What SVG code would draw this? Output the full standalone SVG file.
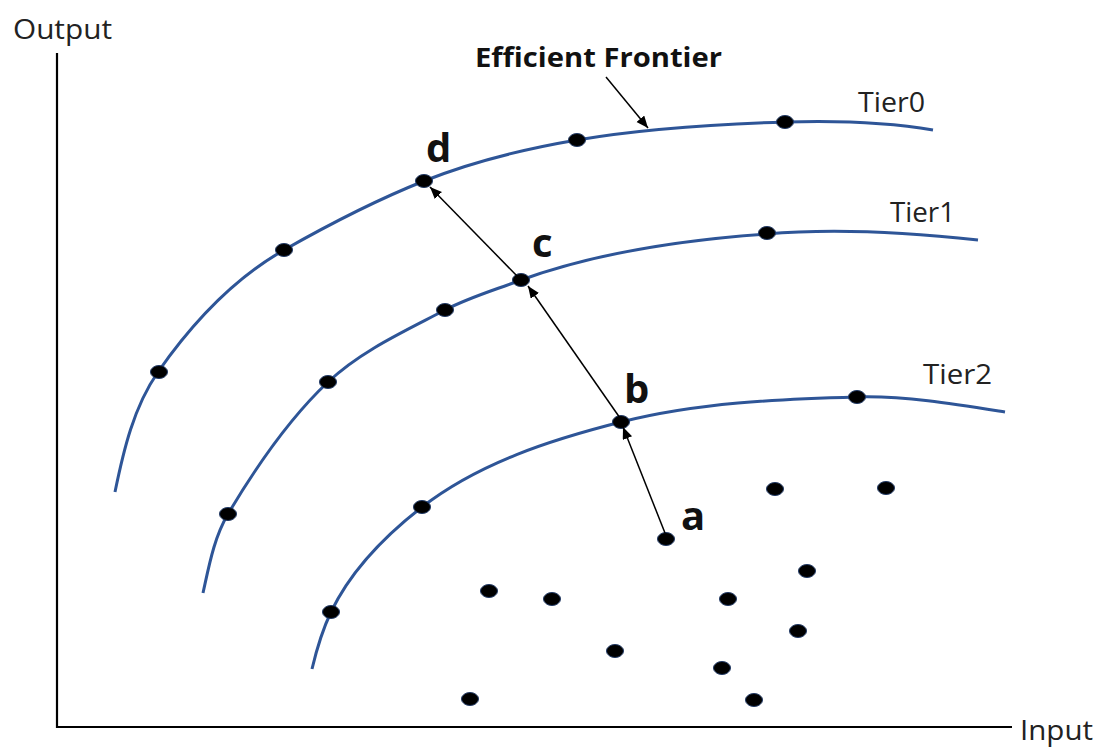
<svg xmlns="http://www.w3.org/2000/svg" width="1099" height="747" viewBox="0 0 1099 747">
<style>
.axis{stroke:#000;stroke-width:2.2;fill:none}
.tier{stroke:#2E5597;stroke-width:3;fill:none;stroke-linecap:butt}
.dot{fill:#000;stroke:#1F3864;stroke-width:1}
.arr{stroke:#000;stroke-width:1.5;fill:none}
.lbl{font-family:"Open Sans","Liberation Sans",sans-serif;font-size:28px;fill:#222}
.pt{font-family:"Open Sans","Liberation Sans",sans-serif;font-size:40px;font-weight:bold;fill:#111}
.ef{font-family:"Open Sans","Liberation Sans",sans-serif;font-size:26px;font-weight:bold;fill:#111}
</style>
<defs>
<marker id="ah" markerUnits="userSpaceOnUse" markerWidth="13" markerHeight="11" refX="12" refY="5" orient="auto">
<path d="M0,0 L12,5 L0,10 z" fill="#000"/>
</marker>
</defs>
<rect width="1099" height="747" fill="#fff"/>
<g id="axes">
<polyline class="axis" points="57,53 57,727 1012,727"/>
<text class="lbl" x="13" y="39" textLength="99" lengthAdjust="spacingAndGlyphs">Output</text>
<text class="lbl" x="1020" y="740" textLength="73" lengthAdjust="spacingAndGlyphs">Input</text>
</g>
<g id="tier0">
<path class="tier" d="M115,492 C123.5,450.4 133.7,406.9 158,372 C191.5,324 233.2,279 284,250 C329.2,224.3 375.7,200.3 424,181 C472.6,161.6 525.3,148.8 577,140 C646,128.3 715,124.2 785,122 C834.4,120.5 884.3,121.6 933,130"/>
<ellipse class="dot" cx="159" cy="372" rx="8.5" ry="6.5"/>
<ellipse class="dot" cx="284" cy="250" rx="8.5" ry="6.5"/>
<ellipse class="dot" cx="424" cy="181" rx="8.5" ry="6.5"/>
<ellipse class="dot" cx="577" cy="140" rx="8.5" ry="6.5"/>
<ellipse class="dot" cx="785" cy="122" rx="8.5" ry="6.5"/>
<text class="lbl" x="858" y="112" textLength="67" lengthAdjust="spacingAndGlyphs">Tier0</text>
</g>
<g id="tier1">
<path class="tier" d="M203,593 C209,566.1 213.9,537.8 228,514 C256.2,466.5 287.8,419.8 328,382 C361.4,350.6 404.5,331.3 445,310 C468.7,297.5 496.9,289.3 521,280 C598.3,251.9 682.7,239.8 766,234 C836.4,227.7 907.7,232.2 978,240"/>
<ellipse class="dot" cx="228" cy="514" rx="8.5" ry="6.5"/>
<ellipse class="dot" cx="328" cy="382" rx="8.5" ry="6.5"/>
<ellipse class="dot" cx="445" cy="310" rx="8.5" ry="6.5"/>
<ellipse class="dot" cx="521" cy="280" rx="8.5" ry="6.5"/>
<ellipse class="dot" cx="767" cy="233" rx="8.5" ry="6.5"/>
<text class="lbl" x="890" y="222" textLength="65" lengthAdjust="spacingAndGlyphs">Tier1</text>
</g>
<g id="tier2">
<path class="tier" d="M312,669 C316.6,649.5 322.4,630 331,612 C351,570.2 385.4,535.4 422,507 C479,462.8 551.1,439.7 621,422 C697.6,402.6 777.9,399.1 857,397 C906.6,395.7 956,404.1 1005,412"/>
<ellipse class="dot" cx="331" cy="612" rx="8.5" ry="6.5"/>
<ellipse class="dot" cx="422" cy="507" rx="8.5" ry="6.5"/>
<ellipse class="dot" cx="621" cy="422" rx="8.5" ry="6.5"/>
<ellipse class="dot" cx="857" cy="397" rx="8.5" ry="6.5"/>
<text class="lbl" x="923" y="384" textLength="69" lengthAdjust="spacingAndGlyphs">Tier2</text>
</g>
<g id="inefficient">
<ellipse class="dot" cx="775" cy="489" rx="8.5" ry="6.5"/>
<ellipse class="dot" cx="886" cy="488" rx="8.5" ry="6.5"/>
<ellipse class="dot" cx="666" cy="539" rx="8.5" ry="6.5"/>
<ellipse class="dot" cx="807" cy="571" rx="8.5" ry="6.5"/>
<ellipse class="dot" cx="489" cy="591" rx="8.5" ry="6.5"/>
<ellipse class="dot" cx="552" cy="599" rx="8.5" ry="6.5"/>
<ellipse class="dot" cx="728" cy="599" rx="8.5" ry="6.5"/>
<ellipse class="dot" cx="798" cy="631" rx="8.5" ry="6.5"/>
<ellipse class="dot" cx="615" cy="651" rx="8.5" ry="6.5"/>
<ellipse class="dot" cx="722" cy="668" rx="8.5" ry="6.5"/>
<ellipse class="dot" cx="470" cy="699" rx="8.5" ry="6.5"/>
<ellipse class="dot" cx="754" cy="700" rx="8.5" ry="6.5"/>
</g>
<g id="labels">
<text class="pt" x="426" y="162">d</text>
<text class="pt" x="532" y="257">c</text>
<text class="pt" x="624" y="403">b</text>
<text class="pt" x="681" y="530">a</text>
<text class="ef" x="475" y="67" textLength="247" lengthAdjust="spacingAndGlyphs">Efficient Frontier</text>
</g>
<g id="connectors">
<line class="arr" x1="665" y1="533" x2="623" y2="427" marker-end="url(#ah)"/>
<line class="arr" x1="620" y1="418" x2="528" y2="286" marker-end="url(#ah)"/>
<line class="arr" x1="518" y1="277" x2="430" y2="187" marker-end="url(#ah)"/>
<line class="arr" x1="606" y1="77" x2="648" y2="128" marker-end="url(#ah)"/>
</g>
</svg>
